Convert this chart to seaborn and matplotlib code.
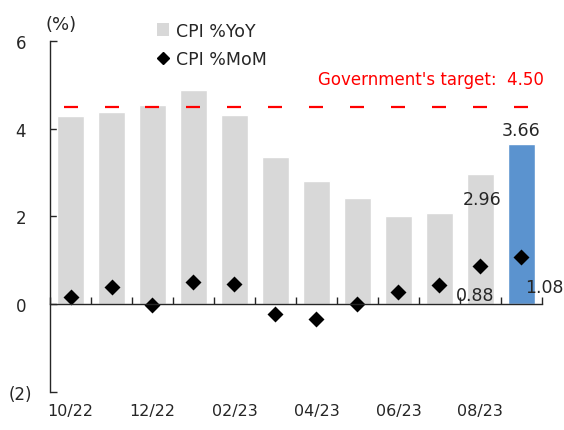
import numpy as np
import matplotlib
matplotlib.use("Agg")
import matplotlib.pyplot as plt
import seaborn as sns
from matplotlib.patches import Patch
from matplotlib.lines import Line2D

months = ['10/22', '11/22', '12/22', '01/23', '02/23', '03/23',
          '04/23', '05/23', '06/23', '07/23', '08/23', '09/23']
cpi_yoy = [4.30, 4.37, 4.55, 4.89, 4.31, 3.35, 2.81, 2.43, 2.00, 2.07, 2.96, 3.66]
cpi_mom = [0.16, 0.39, -0.02, 0.51, 0.45, -0.23, -0.34, 0.01, 0.27, 0.44, 0.88, 1.08]
target = 4.50
shown_labels = ['10/22', '12/22', '02/23', '04/23', '06/23', '08/23']

sns.set_style("white")
plt.rcParams['font.family'] = ['DejaVu Sans']

txt = '#262626'
bar_colors = ['#d8d8d8'] * (len(months) - 1) + ['#5b93cf']

fig = plt.figure(figsize=(5.64, 4.31), dpi=100)
ax = fig.add_axes([0.0887, 0.0882, 0.872, 0.8144])

sns.barplot(x=months, y=cpi_yoy, hue=months, palette=bar_colors, legend=False,
            width=0.66, ax=ax, saturation=1)
sns.pointplot(x=months, y=cpi_mom, color='black', marker='D', linestyle='none',
              markersize=6.5, errorbar=None, ax=ax)

# government target as dashes centred on each month
ax.plot(range(len(months)), [target] * len(months), linestyle='none', marker='_',
        markersize=9.5, markeredgewidth=1.6, color='#ff0000')
ax.text(11.55, target + 0.42, f"Government's target:  {target:.2f}", color='#ff0000',
        ha='right', va='bottom', fontsize=12)

# value labels for the latest two months
ax.text(11, cpi_yoy[11] + 0.1, f"{cpi_yoy[11]:.2f}", ha='center', va='bottom',
        color=txt, fontsize=12.5)
ax.text(10.05, cpi_yoy[10] - 0.36, f"{cpi_yoy[10]:.2f}", ha='center', va='top',
        color=txt, fontsize=12.5)
ax.text(9.88, cpi_mom[10] - 0.68, f"{cpi_mom[10]:.2f}", ha='center', va='center',
        color=txt, fontsize=12.5)
ax.text(11.1, cpi_mom[11] - 0.68, f"{cpi_mom[11]:.2f}", ha='left', va='center',
        color=txt, fontsize=12.5)

ax.set_xlim(-0.5, len(months) - 0.5)
ax.set_ylim(-2, 6)
ax.set_yticks([-2, 0, 2, 4, 6])
ax.set_yticklabels(['(2)', '0', '2', '4', '6'], ha='center')
ax.tick_params(axis='y', left=True, direction='in', length=5, width=1, pad=21,
               labelsize=12, colors=txt)
ax.set_xlabel('')
ax.set_ylabel('')

# x axis line sits at zero, with ticks between months
ax.spines['bottom'].set_position(('data', 0))
ax.spines['bottom'].set_color(txt)
ax.spines['bottom'].set_linewidth(1)
ax.set_xticks(np.arange(-0.5, len(months), 1))
ax.set_xticklabels([])
ax.tick_params(axis='x', bottom=True, top=False, direction='in', length=5, width=1,
               color=txt)
for s in ['top', 'right']:
    ax.spines[s].set_visible(False)
ax.spines['left'].set_color(txt)
ax.spines['left'].set_linewidth(1)

# month labels along the bottom
lab = ax.secondary_xaxis('bottom')
lab.set_xticks([months.index(m) for m in shown_labels])
lab.set_xticklabels(shown_labels)
lab.tick_params(length=0, pad=8, labelsize=11.5, colors=txt)
lab.spines['bottom'].set_visible(False)

ax.text(-0.01, 1.047, '(%)', transform=ax.transAxes, fontsize=13, color=txt,
        ha='left', va='center')

handles = [Patch(facecolor='#d8d8d8', edgecolor='none'),
           Line2D([], [], linestyle='none', marker='D', color='black', markersize=6)]
ax.legend(handles, ['CPI %YoY', 'CPI %MoM'], loc='upper left',
          bbox_to_anchor=(0.185, 1.1), frameon=False, fontsize=12.5,
          handlelength=0.7, handleheight=0.8, handletextpad=0.4, labelspacing=0.6,
          labelcolor=txt)

fig.savefig('out.png', dpi=100)
